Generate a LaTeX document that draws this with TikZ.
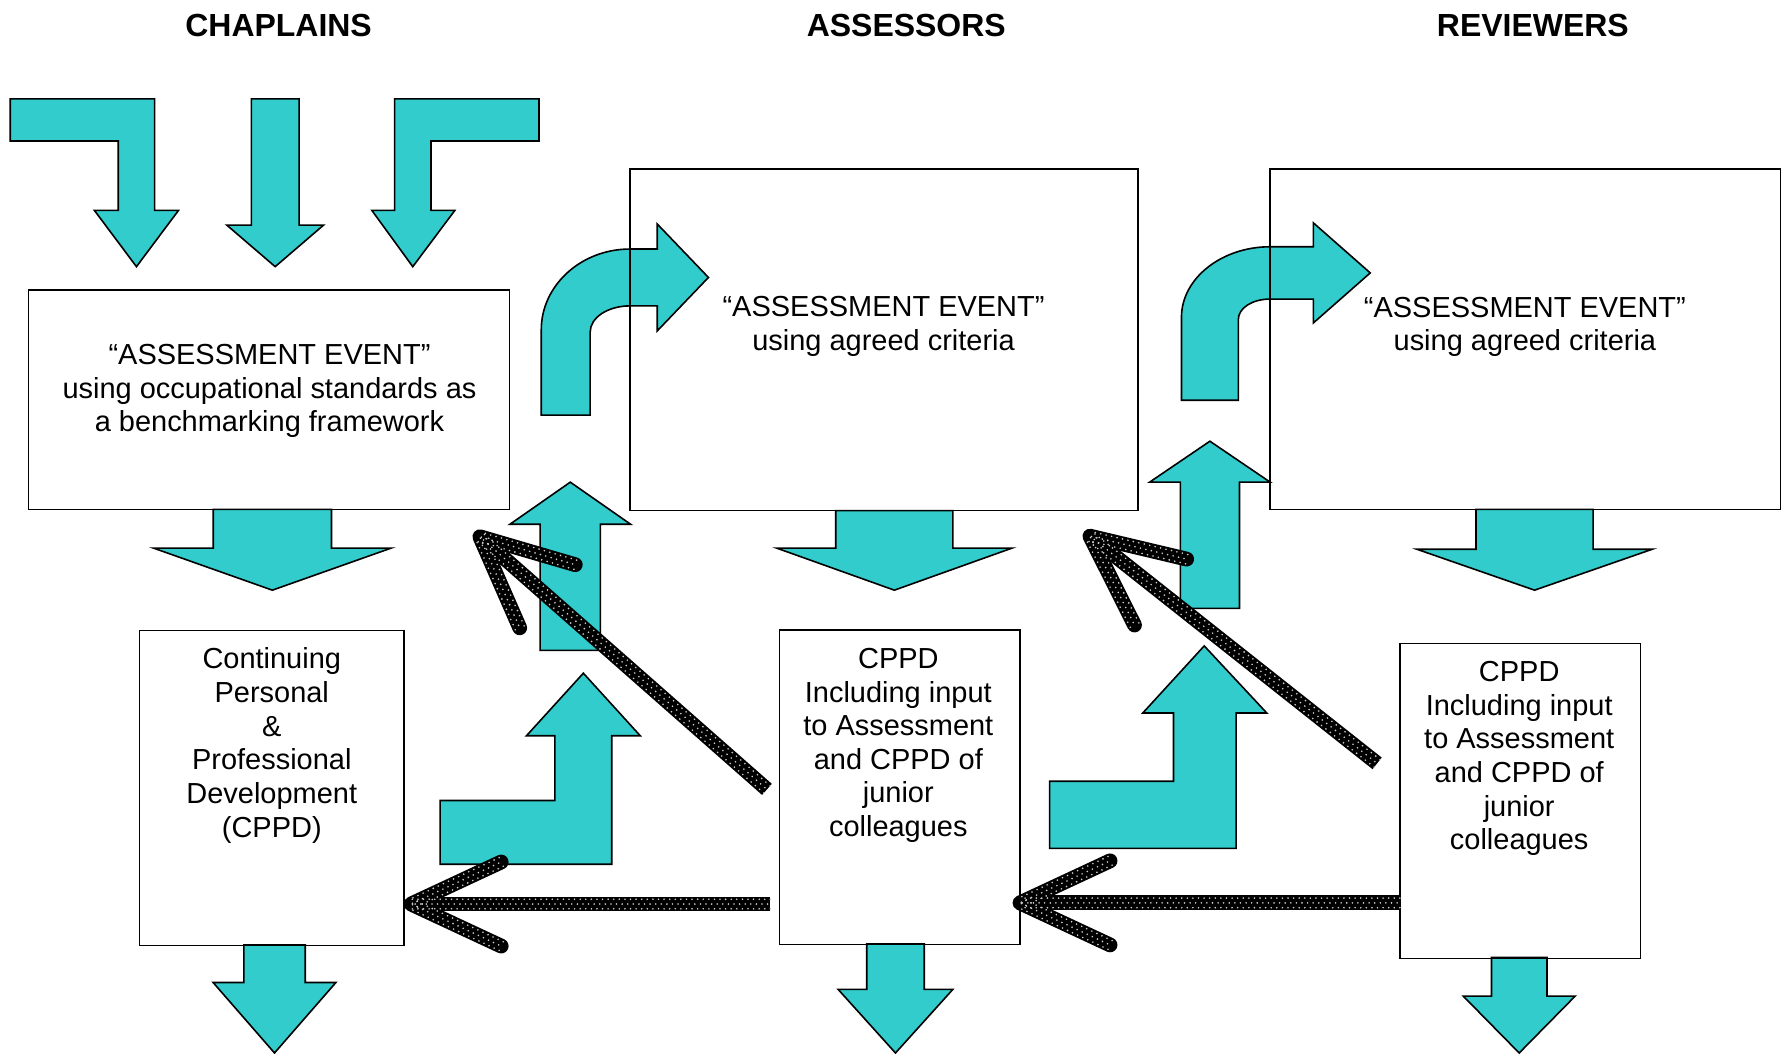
\documentclass[tikz,border=0pt]{standalone}
\usepackage{fontspec}
\setmainfont{Liberation Sans}
\usepackage{tikz}
\usetikzlibrary{calc}
\definecolor{mycyan}{RGB}{51,204,204}
\definecolor{mydot}{RGB}{205,205,205}

\begin{document}
\begin{tikzpicture}[x=0.02cm, y=-0.02cm,
    box/.style={draw, line width=0.8pt, inner sep=0pt, outer sep=0pt},
    txt/.style={font=\fontsize{14.5}{16.85}\selectfont, align=center, inner sep=0pt},
    head/.style={font=\fontsize{16}{19}\selectfont\bfseries, inner sep=0pt},
    blockarrow/.style={draw, fill=mycyan, line width=0.8pt},
    dotpen/.style={line width=7.4pt, black},
    dotrow/.style={line width=0.9pt, mydot, line cap=round, dash pattern=on 0pt off 2.8pt}]

  \useasboundingbox (0,0) rectangle (1568,927);

  % column headings
  \node[head] (hChap) at (245,22)  {CHAPLAINS};
  \node[head] (hAss)  at (797,22)  {ASSESSORS};
  \node[head] (hRev)  at (1348,22) {REVIEWERS};

  % bent arrows coming in from the top
  \draw[blockarrow] (9,87) -- (136,87) -- (136,185) -- (157,185) -- (120,234.5)
    -- (83,185) -- (104,185) -- (104,124) -- (9,124) -- cycle;
  \draw[blockarrow] (474,87) -- (347,87) -- (347,185) -- (327,185) -- (363,234.5)
    -- (400,185) -- (379,185) -- (379,124) -- (474,124) -- cycle;

  % straight arrows: centre/start/half shaft/half head/head base/tip
  \foreach \cx/\ya/\sw/\hw/\hb/\yt in {
      242/87/21/42.5/198/234.5,
      239.5/448/52/104.5/482/519, 786.5/449/51.5/103.5/482/519,
      1349.5/448/51.5/103.5/483/519,
      241.4/831/27/54/864/926, 787.5/830/25.3/50.5/870/926,
      1336/842/24.4/49.2/876/926,
      501.5/572/26.5/53/461/424, 1064/535/26/53/424/388}{
    \draw[blockarrow] ({\cx-\sw},\ya) -- ({\cx+\sw},\ya) -- ({\cx+\sw},\hb)
      -- ({\cx+\hw},\hb) -- (\cx,\yt) -- ({\cx-\hw},\hb) -- ({\cx-\sw},\hb) -- cycle;
  }

  % stepped arrows
  \draw[blockarrow] (387,704) -- (488,704) -- (488,647) -- (463,647) -- (513,592)
    -- (563,647) -- (538,647) -- (538,760) -- (387,760) -- cycle;
  \draw[blockarrow] (923,687) -- (1032,687) -- (1032,627) -- (1005,627) -- (1059,568)
    -- (1114,627) -- (1087,627) -- (1087,746) -- (923,746) -- cycle;

  % curved arrows
  \draw[blockarrow] (476,365) -- (476,290) .. controls (476,251) and (511,219) .. (554,219)
    -- (578,219) -- (578,197) -- (623,244) -- (578,291) -- (578,269) -- (554,269)
    .. controls (535,269) and (519,279) .. (519,292) -- (519,365) -- cycle;
  \draw[blockarrow] (1039,352) -- (1039,279) .. controls (1039,245) and (1074,217) .. (1117,217)
    -- (1155,217) -- (1155,196) -- (1205,240) -- (1155,284) -- (1155,263) -- (1117,263)
    .. controls (1101,263) and (1089,271) .. (1089,281) -- (1089,352) -- cycle;

  % boxes
  \node[box, minimum width=8.46cm, minimum height=3.86cm] (A1) at (236.5,351.5) {};
  \node[box, minimum width=8.94cm, minimum height=6.01cm] (A2) at (777.5,298.75) {};
  \node[box, minimum width=8.98cm, minimum height=5.99cm] (A3) at (1341.5,298.25) {};
  \node[box, minimum width=4.66cm, minimum height=5.54cm] (C1) at (239,693) {};
  \node[box, minimum width=4.23cm, minimum height=5.53cm] (C2) at (791.2,692.2) {};
  \node[box, minimum width=4.23cm, minimum height=5.54cm] (C3) at (1336.8,704.3) {};

  \node[txt] (tA1) at (237,344)
    {“ASSESSMENT EVENT”\\using occupational standards as\\a benchmarking framework};
  \node[txt] (tA2) at (777,287) {“ASSESSMENT EVENT”\\using agreed criteria};
  \node[txt] (tA3) at (1341,287.5) {“ASSESSMENT EVENT”\\using agreed criteria};
  \node[txt] (tC1) at (239,655.5)
    {Continuing\\Personal\\\&\\Professional\\Development\\(CPPD)};
  \node[txt] (tC2) at (790,655.5)
    {CPPD\\Including input\\to Assessment\\and CPPD of\\junior\\colleagues};
  \node[txt] (tC3) at (1336,667)
    {CPPD\\Including input\\to Assessment\\and CPPD of\\junior\\colleagues};

  % dotted feedback arrows
  \coordinate (h1t) at ($(C2.west |- 0,795)+(-8,0)$);
  \coordinate (h1h) at ($(C1.east |- 0,795)+(6,0)$);
  \coordinate (h2t) at (C3.west |- 0,794);
  \coordinate (h2h) at (C2.east |- 0,794);
  \coordinate (d1t) at ($(C2.west)+(-11,2)$);
  \coordinate (d1h) at ($(A1.south east)+(-26,24)$);
  \coordinate (d2t) at ($(C3.west)+(-20,-33)$);
  \coordinate (d2h) at ($(A2.south east)+(-42.5,22.5)$);

  \foreach \ta/\hd in {h1t/h1h, h2t/h2h, d1t/d1h, d2t/d2h}{
    \coordinate (bA) at ($(\hd)!1.75cm!25:(\ta)$);
    \coordinate (bB) at ($(\hd)!1.75cm!-25:(\ta)$);
    \draw[dotpen] (\ta) -- (\hd);
    \draw[dotpen, line cap=round, line join=round] (bA) -- (\hd) -- (bB);
    \foreach \p in {\ta,bA,bB}
      \foreach \dd/\ph in {-2.4pt/0pt, 0pt/1.4pt, 2.4pt/0pt}
        \draw[dotrow, dash phase=\ph] ($(\p)!\dd!90:(\hd)$) -- ($(\hd)!\dd!-90:(\p)$);
  }
\end{tikzpicture}
\end{document}
